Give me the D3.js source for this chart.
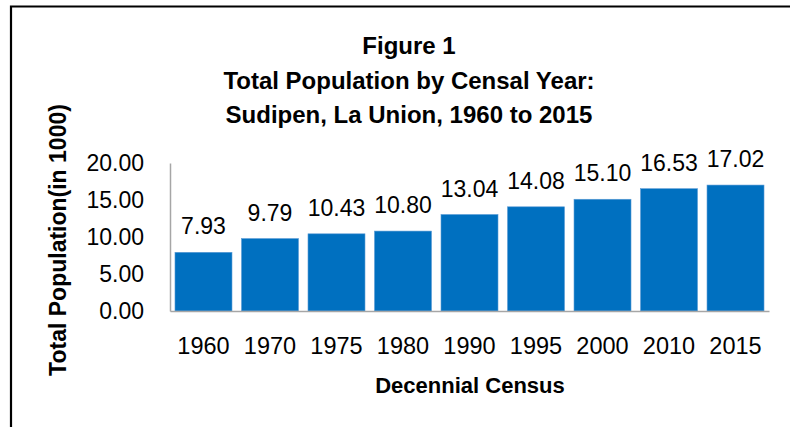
<!DOCTYPE html>
<html>
<head>
<meta charset="utf-8">
<script src="https://cdn.jsdelivr.net/npm/d3@7/dist/d3.min.js"></script>
<style>
  html, body { margin: 0; padding: 0; background: #fff; }
  svg { display: block; }
</style>
</head>
<body>
<svg id="chart" width="790" height="427"></svg>
<script>
const years = ["1960", "1970", "1975", "1980", "1990", "1995", "2000", "2010", "2015"];
const population = [7.93, 9.79, 10.43, 10.80, 13.04, 14.08, 15.10, 16.53, 17.02];
const yTicks = [0, 5, 10, 15, 20];
const titleLines = ["Figure 1", "Total Population by Censal Year:", "Sudipen, La Union, 1960 to 2015"];
const yLabel = "Total Population(in 1000)";
const xLabel = "Decennial Census";

const svg = d3.select("#chart");
const font = "'Liberation Sans', Arial, sans-serif";

// frame (top & left edges)
svg.append("path")
  .attr("d", "M11,427 L11,6.5 L790,6.5")
  .attr("fill", "none").attr("stroke", "#000").attr("stroke-width", 2.2);

const plot = { left: 170, right: 769, top: 163, bottom: 311 };

const x = d3.scaleBand().domain(years)
  .range([plot.left, plot.right]).paddingInner(0.143).paddingOuter(0.075);
const y = d3.scaleLinear().domain([0, 20]).range([plot.bottom, plot.top]);

// title
svg.append("g").selectAll("text").data(titleLines).join("text")
  .attr("x", 409).attr("y", (d, i) => 54 + i * 34.5)
  .attr("text-anchor", "middle")
  .style("font-family", font).style("font-weight", "bold").style("font-size", "24px")
  .attr("fill", "#000").text(d => d);

// bars
svg.append("g").selectAll("rect").data(population).join("rect")
  .attr("x", (d, i) => x(years[i]))
  .attr("y", d => y(d))
  .attr("width", x.bandwidth())
  .attr("height", d => y(0) - y(d))
  .attr("fill", "#0070C0")
  .attr("stroke", "#5b9bd5").attr("stroke-width", 0.6);

// value labels
svg.append("g").selectAll("text").data(population).join("text")
  .attr("x", (d, i) => x(years[i]) + x.bandwidth() / 2)
  .attr("y", d => y(d) - 18)
  .attr("text-anchor", "middle")
  .style("font-family", font).style("font-size", "23px")
  .attr("fill", "#000").text(d => d.toFixed(2));

// y axis
const yAxis = d3.axisLeft(y).tickValues(yTicks).tickFormat(d => d.toFixed(2)).tickSize(0).tickPadding(26);
const gy = svg.append("g").attr("transform", `translate(${plot.left},0)`).call(yAxis);
gy.select(".domain").attr("stroke", "#a6a6a6").attr("stroke-width", 1.5);
gy.selectAll("text").style("font-family", font).style("font-size", "23px").attr("fill", "#000");

// x axis
const xAxis = d3.axisBottom(x).tickSize(0).tickPadding(26);
const gx = svg.append("g").attr("transform", `translate(0,${plot.bottom})`).call(xAxis);
gx.select(".domain").attr("stroke", "#a6a6a6").attr("stroke-width", 1.5);
gx.selectAll("text").style("font-family", font).style("font-size", "23.5px").attr("fill", "#000");

// axis titles
svg.append("text")
  .attr("x", 470).attr("y", 393)
  .attr("text-anchor", "middle")
  .style("font-family", font).style("font-weight", "bold").style("font-size", "22px")
  .text(xLabel);

svg.append("text")
  .attr("transform", "translate(66,240) rotate(-90)")
  .attr("text-anchor", "middle")
  .style("font-family", font).style("font-weight", "bold").style("font-size", "23px")
  .text(yLabel);
</script>
</body>
</html>
